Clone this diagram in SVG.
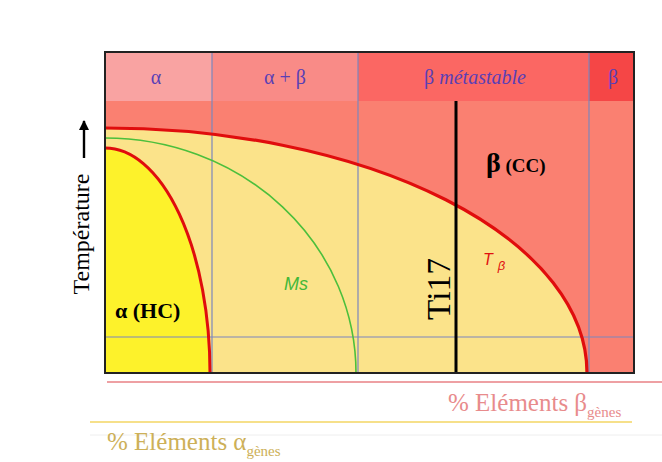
<svg xmlns="http://www.w3.org/2000/svg" width="662" height="462" viewBox="0 0 662 462">
<style>
.hdr{font-family:"Liberation Serif","DejaVu Serif",serif;font-size:20px;fill:#5a3fb5;text-anchor:middle}
.div{stroke:#7c86bd;stroke-width:1.2;fill:none}
.ser{font-family:"Liberation Serif","DejaVu Serif",serif}
</style>
<defs>
<marker id="ah" viewBox="0 0 10 10" refX="9" refY="5" markerWidth="14" markerHeight="10" markerUnits="userSpaceOnUse" orient="auto">
<path d="M0,0 L10,5 L0,10 Z" fill="#000"/>
</marker>
</defs>
<rect width="662" height="462" fill="#fff"/>
<g id="diagram">
<rect x="105" y="101" width="529" height="272" fill="#fa8071"/>
<rect x="105" y="52" width="107" height="49" fill="#f9a3a2"/>
<rect x="212" y="52" width="146" height="49" fill="#f98b87"/>
<rect x="358" y="52" width="231" height="49" fill="#fb6763"/>
<rect x="589" y="52" width="45" height="49" fill="#f54646"/>
<path d="M105,373 L105,128 A482 245 0 0 1 587,373 Z" fill="#fbe38a"/>
<path d="M105,373 L105,148 A105 225 0 0 1 210,373 Z" fill="#fdf22b"/>
<g class="div">
<line x1="212" y1="52" x2="212" y2="373"/>
<line x1="358" y1="52" x2="358" y2="373"/>
<line x1="589" y1="52" x2="589" y2="373"/>
<line x1="105" y1="337" x2="634" y2="337"/>
</g>
<path d="M105,138 A251 235 0 0 1 356,373" fill="none" stroke="#4cbf3c" stroke-width="1.6"/>
<path d="M105,148 A105 225 0 0 1 210,373" fill="none" stroke="#e00d0d" stroke-width="3"/>
<path d="M105,128 A482 245 0 0 1 587,373" fill="none" stroke="#e00d0d" stroke-width="3.2"/>
<line x1="456" y1="101" x2="456" y2="373" stroke="#000" stroke-width="3"/>
<rect x="105" y="52" width="529" height="321" fill="none" stroke="#222" stroke-width="2"/>
</g>
<g id="labels">
<text class="hdr" x="156" y="84">α</text>
<text class="hdr" x="285" y="84">α + β</text>
<text class="hdr" x="475" y="84">β <tspan font-style="italic">métastable</tspan></text>
<text class="hdr" x="613" y="84">β</text>
<text class="ser" x="115" y="318" font-size="22" font-weight="bold">α (HC)</text>
<text class="ser" x="486" y="172" font-weight="bold"><tspan font-size="28">β</tspan><tspan font-size="19"> (CC)</tspan></text>
<text x="483" y="265" font-family="Liberation Sans,sans-serif" font-style="italic" font-size="16" fill="#e01010">T<tspan dx="5" dy="5" font-size="13">β</tspan></text>
<text x="284" y="290" font-family="Liberation Sans,sans-serif" font-style="italic" font-size="18" fill="#43b838">Ms</text>
<text class="ser" transform="translate(450,289) rotate(-90)" text-anchor="middle" font-size="34" textLength="62" lengthAdjust="spacingAndGlyphs">Ti17</text>
<text class="ser" transform="translate(89,234) rotate(-90)" text-anchor="middle" font-size="24">Température</text>
<line x1="84" y1="158" x2="84" y2="121" stroke="#000" stroke-width="2.4" marker-end="url(#ah)"/>
</g>
<g id="axes">
<line x1="107" y1="382" x2="662" y2="382" stroke="#eea0a3" stroke-width="2"/>
<line x1="90" y1="422" x2="632" y2="422" stroke="#f6e08a" stroke-width="2"/>
<line x1="90" y1="435" x2="662" y2="435" stroke="#eeeeee" stroke-width="1"/>
<text class="ser" x="448" y="411" font-size="25" fill="#e88b8c">% Eléments β<tspan font-size="15" dy="6">gènes</tspan></text>
<text class="ser" x="107" y="450" font-size="25" fill="#cdb058">% Eléments α<tspan font-size="15" dy="6">gènes</tspan></text>
</g>
</svg>
